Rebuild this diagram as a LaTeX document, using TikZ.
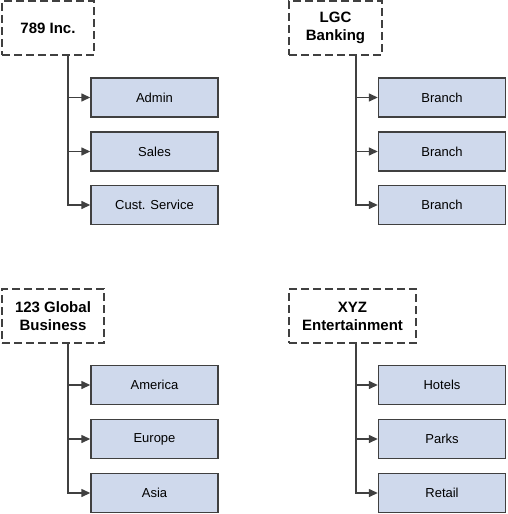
\documentclass[tikz,border=0pt]{standalone}
\usepackage{fontspec}
\setmainfont{Liberation Sans}
\usetikzlibrary{positioning,arrows.meta}
\definecolor{unitblue}{RGB}{207,217,236}
\definecolor{linegray}{RGB}{64,64,64}
\tikzstyle{org}   = [draw=linegray, line width=1.4pt, dash pattern=on 8pt off 4pt, fill=white, minimum height=54pt, align=center, font=\fontsize{15}{18}\selectfont\bfseries, inner sep=0pt]
\tikzstyle{unit}  = [draw=linegray, line width=1.4pt, fill=unitblue, minimum width=127pt, minimum height=39pt, font=\fontsize{13}{15}\selectfont, inner sep=0pt]
\tikzstyle{arrow} = [draw=linegray, line width=1.4pt, -{Triangle[length=9pt,width=8pt]}]

\begin{document}
\begin{tikzpicture}[x=1pt,y=-1pt]
		\useasboundingbox (0,0) rectangle (507,514);

		% top left
		\node[org, minimum width=92pt]  (inc)   at (48,28)    {789 Inc.};
		\coordinate (t1) at (68,0);
		\node[unit] (admin) at (154.5,97.5) {Admin};
		\node[unit] (sales) at (154.5,151.5) {Sales};
		\node[unit] (cust)  at (154.5,205) {Cust. Service};
		\draw[arrow] (inc.south -| t1) |- (admin.west);
		\draw[arrow] (inc.south -| t1) |- (sales.west);
		\draw[arrow] (inc.south -| t1) |- (cust.west);

		% top right
		\node[org, minimum width=93pt]  (lgc)   at (335.5,28) {LGC\\Banking};
		\coordinate (t2) at (356,0);
		\node[unit] (bra) at (442,97.5) {Branch};
		\node[unit] (brb) at (442,151.5) {Branch};
		\node[unit] (brc) at (442,205) {Branch};
		\draw[arrow] (lgc.south -| t2) |- (bra.west);
		\draw[arrow] (lgc.south -| t2) |- (brb.west);
		\draw[arrow] (lgc.south -| t2) |- (brc.west);

		% bottom left
		\node[org, minimum width=102pt] (glob)  at (53,316)   {123 Global\\Business};
		\coordinate (t3) at (68,0);
		\node[unit] (amer) at (154.5,385) {America};
		\node[unit] (euro) at (154.5,439) {Europe};
		\node[unit] (asia) at (154.5,493) {Asia};
		\draw[arrow] (glob.south -| t3) |- (amer.west);
		\draw[arrow] (glob.south -| t3) |- (euro.west);
		\draw[arrow] (glob.south -| t3) |- (asia.west);

		% bottom right
		\node[org, minimum width=127pt] (xyz)   at (352.5,316) {XYZ\\Entertainment};
		\coordinate (t4) at (356,0);
		\node[unit] (hot) at (442,385) {Hotels};
		\node[unit] (par) at (442,439) {Parks};
		\node[unit] (ret) at (442,493) {Retail};
		\draw[arrow] (xyz.south -| t4) |- (hot.west);
		\draw[arrow] (xyz.south -| t4) |- (par.west);
		\draw[arrow] (xyz.south -| t4) |- (ret.west);
	\end{tikzpicture}
\end{document}
